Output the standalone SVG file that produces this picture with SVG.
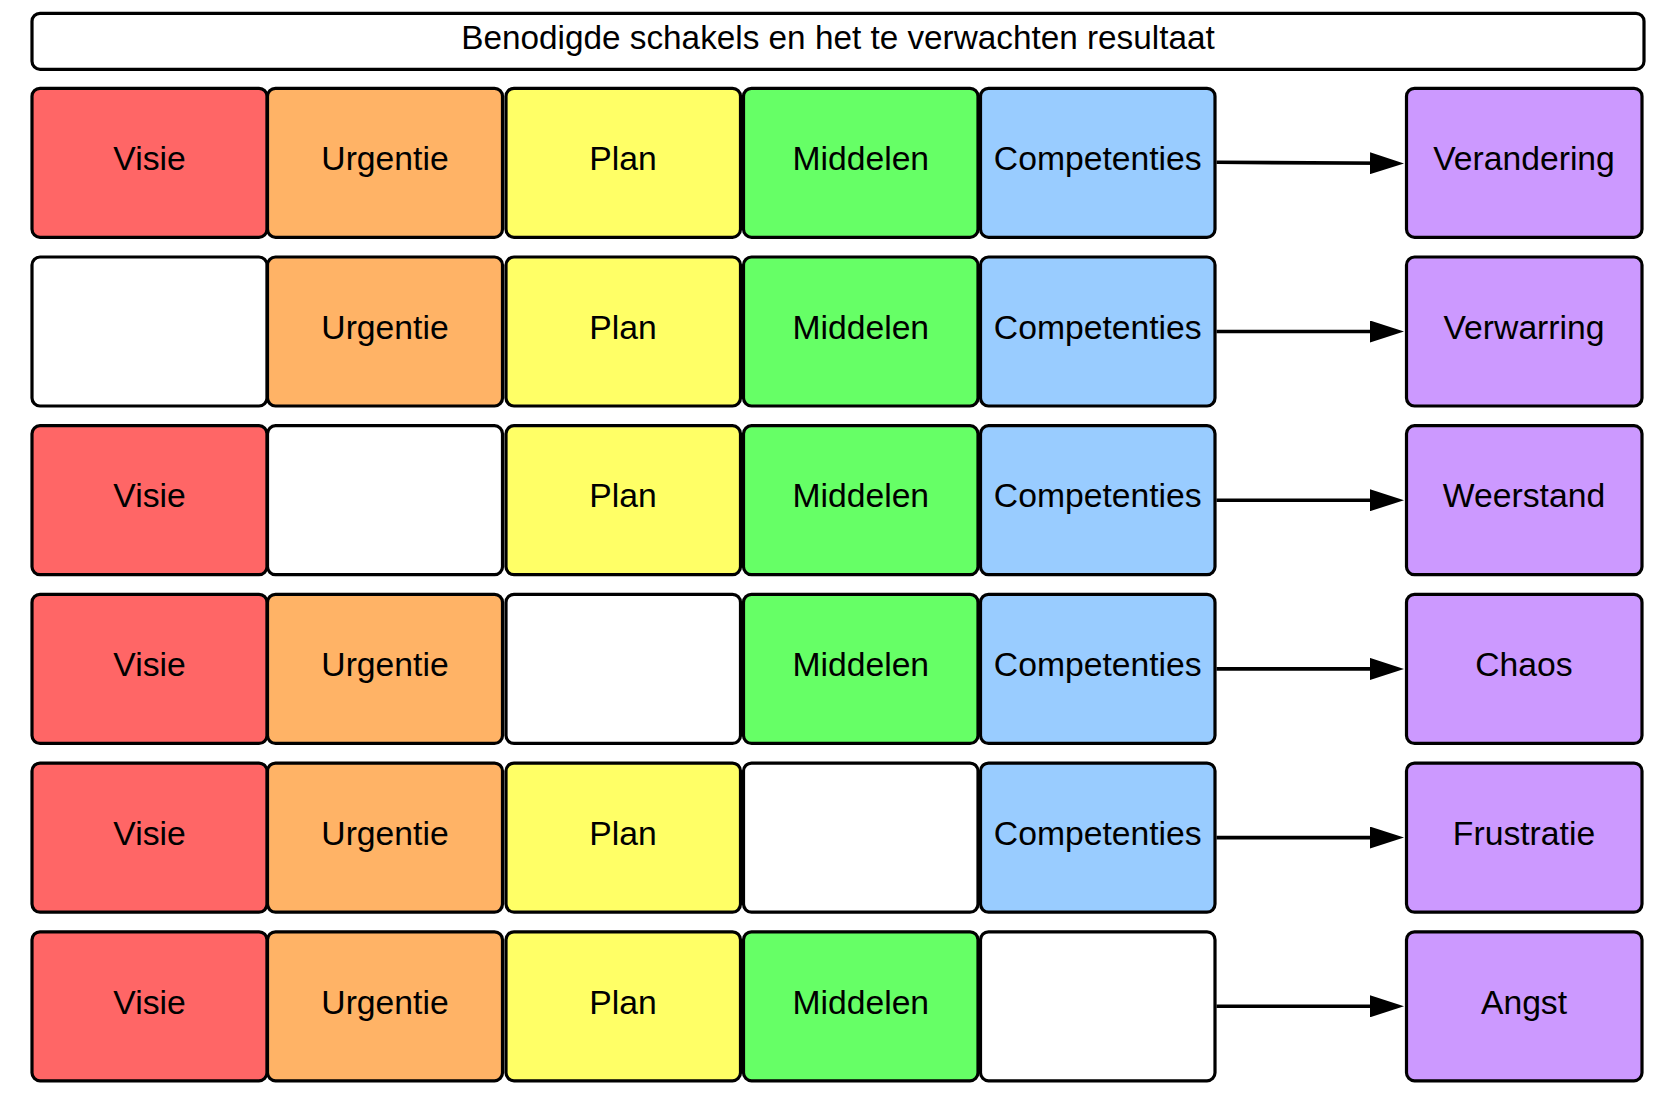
<svg xmlns="http://www.w3.org/2000/svg" width="1663" height="1101" viewBox="0 0 1663 1101">
<defs>
<style>
.box{stroke:#000;stroke-width:3.2;}
.t{font-family:"Liberation Sans",Arial,sans-serif;font-size:33.7px;fill:#000;text-anchor:middle;}
.title{font-family:"Liberation Sans",Arial,sans-serif;font-size:33.3px;fill:#000;text-anchor:middle;}
.r{fill:#FF6666}.o{fill:#FFB366}.y{fill:#FFFF66}.g{fill:#66FF66}.b{fill:#99CCFF}.p{fill:#CC99FF}.w{fill:#FFFFFF}
.conn{stroke:#000;stroke-width:3.6;fill:none;marker-end:url(#ah);}
</style>
<marker id="ah" viewBox="0 0 34 22" refX="20" refY="11" markerWidth="34" markerHeight="22" markerUnits="userSpaceOnUse" orient="auto">
<path d="M0,0 L34,11 L0,22 z" fill="#000"/>
</marker>
</defs>
<rect width="1663" height="1101" fill="#fff"/>
<g id="title">
<rect class="box w" x="32" y="13.3" width="1612" height="56" rx="8"/>
<text class="title" x="838" y="49">Benodigde schakels en het te verwachten resultaat</text>
</g>
<g id="row1">
<g id="r1-visie"><rect class="box r" x="32" y="88.3" width="235" height="149" rx="8"/><text class="t" x="149.5" y="170">Visie</text></g>
<g id="r1-urgentie"><rect class="box o" x="267.5" y="88.3" width="235" height="149" rx="8"/><text class="t" x="385" y="170">Urgentie</text></g>
<g id="r1-plan"><rect class="box y" x="506" y="88.3" width="234.5" height="149" rx="8"/><text class="t" x="623" y="170">Plan</text></g>
<g id="r1-middelen"><rect class="box g" x="743.5" y="88.3" width="234.5" height="149" rx="8"/><text class="t" x="860.75" y="170">Middelen</text></g>
<g id="r1-competenties"><rect class="box b" x="980.5" y="88.3" width="234.5" height="149" rx="8"/><text class="t" x="1097.75" y="170">Competenties</text></g>
<g id="r1-result"><rect class="box p" x="1406.5" y="88.3" width="235.5" height="149" rx="8"/><text class="t" x="1524" y="170">Verandering</text></g>
</g>
<g id="row2">
<g id="r2-visie"><rect class="box w" x="32" y="257" width="235" height="149" rx="8"/></g>
<g id="r2-urgentie"><rect class="box o" x="267.5" y="257" width="235" height="149" rx="8"/><text class="t" x="385" y="338.7">Urgentie</text></g>
<g id="r2-plan"><rect class="box y" x="506" y="257" width="234.5" height="149" rx="8"/><text class="t" x="623" y="338.7">Plan</text></g>
<g id="r2-middelen"><rect class="box g" x="743.5" y="257" width="234.5" height="149" rx="8"/><text class="t" x="860.75" y="338.7">Middelen</text></g>
<g id="r2-competenties"><rect class="box b" x="980.5" y="257" width="234.5" height="149" rx="8"/><text class="t" x="1097.75" y="338.7">Competenties</text></g>
<g id="r2-result"><rect class="box p" x="1406.5" y="257" width="235.5" height="149" rx="8"/><text class="t" x="1524" y="338.7">Verwarring</text></g>
</g>
<g id="row3">
<g id="r3-visie"><rect class="box r" x="32" y="425.7" width="235" height="149" rx="8"/><text class="t" x="149.5" y="507.4">Visie</text></g>
<g id="r3-urgentie"><rect class="box w" x="267.5" y="425.7" width="235" height="149" rx="8"/></g>
<g id="r3-plan"><rect class="box y" x="506" y="425.7" width="234.5" height="149" rx="8"/><text class="t" x="623" y="507.4">Plan</text></g>
<g id="r3-middelen"><rect class="box g" x="743.5" y="425.7" width="234.5" height="149" rx="8"/><text class="t" x="860.75" y="507.4">Middelen</text></g>
<g id="r3-competenties"><rect class="box b" x="980.5" y="425.7" width="234.5" height="149" rx="8"/><text class="t" x="1097.75" y="507.4">Competenties</text></g>
<g id="r3-result"><rect class="box p" x="1406.5" y="425.7" width="235.5" height="149" rx="8"/><text class="t" x="1524" y="507.4">Weerstand</text></g>
</g>
<g id="row4">
<g id="r4-visie"><rect class="box r" x="32" y="594.4" width="235" height="149" rx="8"/><text class="t" x="149.5" y="676.1">Visie</text></g>
<g id="r4-urgentie"><rect class="box o" x="267.5" y="594.4" width="235" height="149" rx="8"/><text class="t" x="385" y="676.1">Urgentie</text></g>
<g id="r4-plan"><rect class="box w" x="506" y="594.4" width="234.5" height="149" rx="8"/></g>
<g id="r4-middelen"><rect class="box g" x="743.5" y="594.4" width="234.5" height="149" rx="8"/><text class="t" x="860.75" y="676.1">Middelen</text></g>
<g id="r4-competenties"><rect class="box b" x="980.5" y="594.4" width="234.5" height="149" rx="8"/><text class="t" x="1097.75" y="676.1">Competenties</text></g>
<g id="r4-result"><rect class="box p" x="1406.5" y="594.4" width="235.5" height="149" rx="8"/><text class="t" x="1524" y="676.1">Chaos</text></g>
</g>
<g id="row5">
<g id="r5-visie"><rect class="box r" x="32" y="763.1" width="235" height="149" rx="8"/><text class="t" x="149.5" y="844.8">Visie</text></g>
<g id="r5-urgentie"><rect class="box o" x="267.5" y="763.1" width="235" height="149" rx="8"/><text class="t" x="385" y="844.8">Urgentie</text></g>
<g id="r5-plan"><rect class="box y" x="506" y="763.1" width="234.5" height="149" rx="8"/><text class="t" x="623" y="844.8">Plan</text></g>
<g id="r5-middelen"><rect class="box w" x="743.5" y="763.1" width="234.5" height="149" rx="8"/></g>
<g id="r5-competenties"><rect class="box b" x="980.5" y="763.1" width="234.5" height="149" rx="8"/><text class="t" x="1097.75" y="844.8">Competenties</text></g>
<g id="r5-result"><rect class="box p" x="1406.5" y="763.1" width="235.5" height="149" rx="8"/><text class="t" x="1524" y="844.8">Frustratie</text></g>
</g>
<g id="row6">
<g id="r6-visie"><rect class="box r" x="32" y="931.8" width="235" height="149" rx="8"/><text class="t" x="149.5" y="1013.5">Visie</text></g>
<g id="r6-urgentie"><rect class="box o" x="267.5" y="931.8" width="235" height="149" rx="8"/><text class="t" x="385" y="1013.5">Urgentie</text></g>
<g id="r6-plan"><rect class="box y" x="506" y="931.8" width="234.5" height="149" rx="8"/><text class="t" x="623" y="1013.5">Plan</text></g>
<g id="r6-middelen"><rect class="box g" x="743.5" y="931.8" width="234.5" height="149" rx="8"/><text class="t" x="860.75" y="1013.5">Middelen</text></g>
<g id="r6-competenties"><rect class="box w" x="980.5" y="931.8" width="234.5" height="149" rx="8"/></g>
<g id="r6-result"><rect class="box p" x="1406.5" y="931.8" width="235.5" height="149" rx="8"/><text class="t" x="1524" y="1013.5">Angst</text></g>
</g>
<g id="connectors">
<path class="conn" d="M1216.5,162.3 L1390,163.3"/>
<path class="conn" d="M1216.5,331.5 L1390,331.5"/>
<path class="conn" d="M1216.5,500.2 L1390,500.2"/>
<path class="conn" d="M1216.5,668.9 L1390,668.9"/>
<path class="conn" d="M1216.5,837.6 L1390,837.6"/>
<path class="conn" d="M1216.5,1006.3 L1390,1006.3"/>
</g>
</svg>
